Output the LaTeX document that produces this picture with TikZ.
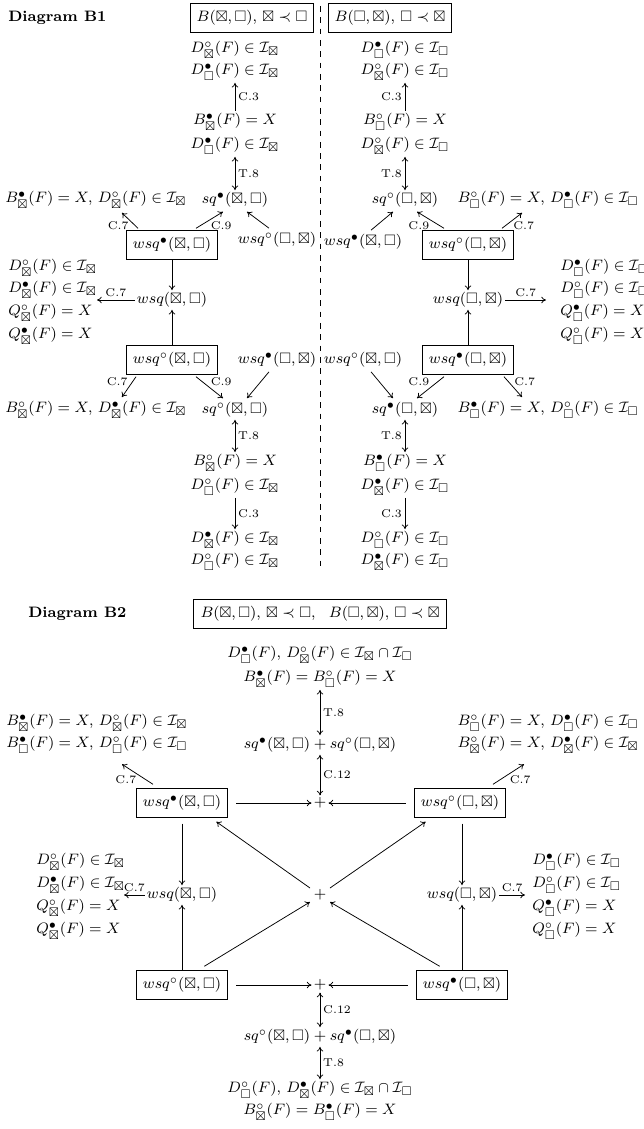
\documentclass[tikz,border=0pt]{standalone}
\usepackage{amsmath,amssymb}
\usetikzlibrary{calc,arrows.meta}
\newcommand{\BX}{\boxtimes}
\newcommand{\SQ}{\square}
\newcommand{\Ic}{\mathcal{I}}
\begin{document}
\begin{tikzpicture}[x=0.53pt,y=-0.53pt,
  every node/.style={inner sep=1pt,font=\footnotesize},
  box/.style={draw,line width=0.6pt,inner sep=3.5pt,minimum height=15pt},
  arr/.style={-{To[length=2.5pt,width=3.5pt]},line width=0.4pt},
  dar/.style={{To[length=2.5pt,width=3.5pt]}-{To[length=2.5pt,width=3.5pt]},line width=0.4pt},
  lab/.style={font=\fontsize{6}{7}\selectfont,inner sep=1.5pt},
  ttl/.style={font=\footnotesize\bfseries,anchor=west}]
\useasboundingbox (0,0) rectangle (643,1129);
% ================= B1 =================
\node[ttl] (t1) at (6,18) {Diagram B1};
\draw[dashed,line width=0.4pt] (320,6) -- (320,566);
% ---- left column
\node[box] (L0) at (252,18) {$B(\BX,\SQ),\,\BX\prec\SQ$};
\node (L1) at (235,50) {$D^\circ_{\BX}(F)\in\Ic_{\BX}$};
\node (L2) at (235,72) {$D^\bullet_{\SQ}(F)\in\Ic_{\BX}$};
\node (L3) at (235,122) {$B^\bullet_{\BX}(F)=X$};
\node (L4) at (235,146) {$D^\bullet_{\SQ}(F)\in\Ic_{\BX}$};
\node (L5) at (235,200) {$sq^\bullet(\BX,\SQ)$};
\draw[arr] (L3) -- node[lab,right]{C.3} (L2);
\draw[dar] (L4) -- node[lab,right]{T.8} (L5);
\node[anchor=west] (LT) at (3,200) {$B^\bullet_{\BX}(F)=X,\,D^\circ_{\BX}(F)\in\Ic_{\BX}$};
\node[box] (Lb1) at (172,245) {$wsq^\bullet(\BX,\SQ)$};
\node (Lw1) at (277,240) {$wsq^\circ(\SQ,\BX)$};
\draw[arr] ($(Lb1.north)+(-34,-2)$) -- node[lab,below left=-1pt]{C.7} ($(LT.south)+(26,2)$);
\draw[arr] ($(Lb1.north)+(24,-2)$) -- node[lab,below right=-1pt]{C.9} ($(L5.south)+(-12,2)$);
\draw[arr] ($(Lw1.north)+(-8,-2)$) -- ($(L5.south)+(12,2)$);
\node[anchor=west] (LS1) at (6,268) {$D^\circ_{\BX}(F)\in\Ic_{\BX}$};
\node[anchor=west] (LS2) at (6,290) {$D^\bullet_{\BX}(F)\in\Ic_{\BX}$};
\node[anchor=west] (LS3) at (6,313) {$Q^\circ_{\BX}(F)=X$};
\node[anchor=west] (LS4) at (6,336) {$Q^\bullet_{\BX}(F)=X$};
\node (Lw) at (172,300) {$wsq(\BX,\SQ)$};
\coordinate (LSx) at (97,300);
\draw[arr] (Lb1) -- (Lw);
\draw[arr] (Lw) -- node[lab,above]{C.7} (LSx);
\node[box] (Lb2) at (172,360) {$wsq^\circ(\BX,\SQ)$};
\node (Lw2) at (277,360) {$wsq^\bullet(\SQ,\BX)$};
\draw[arr] (Lb2) -- (Lw);
\node[anchor=west] (LB) at (3,410) {$B^\circ_{\BX}(F)=X,\,D^\bullet_{\BX}(F)\in\Ic_{\BX}$};
\node (L6) at (235,410) {$sq^\circ(\BX,\SQ)$};
\draw[arr] ($(Lb2.south)+(-36,2)$) -- node[lab,above left=-1pt]{C.7} ($(LB.north)+(26,-2)$);
\draw[arr] ($(Lb2.south)+(24,2)$) -- node[lab,above right=-1pt]{C.9} ($(L6.north)+(-12,-2)$);
\draw[arr] ($(Lw2.south)+(-8,2)$) -- ($(L6.north)+(12,-2)$);
\node (L7) at (235,463) {$B^\circ_{\BX}(F)=X$};
\node (L8) at (235,487) {$D^\circ_{\SQ}(F)\in\Ic_{\BX}$};
\node (L9) at (235,540) {$D^\bullet_{\BX}(F)\in\Ic_{\BX}$};
\node (L10) at (235,562) {$D^\circ_{\SQ}(F)\in\Ic_{\BX}$};
\draw[dar] (L6) -- node[lab,right]{T.8} (L7);
\draw[arr] (L8) -- node[lab,right]{C.3} (L9);
% ---- right column
\node[box] (R0) at (390,18) {$B(\SQ,\BX),\,\SQ\prec\BX$};
\node (R1) at (405,50) {$D^\bullet_{\SQ}(F)\in\Ic_{\SQ}$};
\node (R2) at (405,72) {$D^\circ_{\BX}(F)\in\Ic_{\SQ}$};
\node (R3) at (405,122) {$B^\circ_{\SQ}(F)=X$};
\node (R4) at (405,146) {$D^\circ_{\BX}(F)\in\Ic_{\SQ}$};
\node (R5) at (405,200) {$sq^\circ(\SQ,\BX)$};
\draw[arr] (R3) -- node[lab,left]{C.3} (R2);
\draw[dar] (R4) -- node[lab,left]{T.8} (R5);
\node[anchor=east] (RT) at (641,200) {$B^\circ_{\SQ}(F)=X,\,D^\bullet_{\SQ}(F)\in\Ic_{\SQ}$};
\node[box] (Rb1) at (468,245) {$wsq^\circ(\SQ,\BX)$};
\node (Rw1) at (363,242) {$wsq^\bullet(\BX,\SQ)$};
\draw[arr] ($(Rb1.north)+(34,-2)$) -- node[lab,below right=-1pt]{C.7} ($(RT.south)+(-26,2)$);
\draw[arr] ($(Rb1.north)+(-24,-2)$) -- node[lab,below left=-1pt]{C.9} ($(R5.south)+(12,2)$);
\draw[arr] ($(Rw1.north)+(8,-2)$) -- ($(R5.south)+(-12,2)$);
\node[anchor=west] (RS1) at (558,268) {$D^\bullet_{\SQ}(F)\in\Ic_{\SQ}$};
\node[anchor=west] (RS2) at (558,290) {$D^\circ_{\SQ}(F)\in\Ic_{\SQ}$};
\node[anchor=west] (RS3) at (558,313) {$Q^\bullet_{\SQ}(F)=X$};
\node[anchor=west] (RS4) at (558,336) {$Q^\circ_{\SQ}(F)=X$};
\node (Rw) at (468,300) {$wsq(\SQ,\BX)$};
\coordinate (RSx) at (546,300);
\draw[arr] (Rb1) -- (Rw);
\draw[arr] (Rw) -- node[lab,above]{C.7} (RSx);
\node[box] (Rb2) at (468,360) {$wsq^\bullet(\SQ,\BX)$};
\node (Rw2) at (363,360) {$wsq^\circ(\BX,\SQ)$};
\draw[arr] (Rb2) -- (Rw);
\node[anchor=east] (RB) at (641,410) {$B^\bullet_{\SQ}(F)=X,\,D^\circ_{\SQ}(F)\in\Ic_{\SQ}$};
\node (R6) at (405,410) {$sq^\bullet(\SQ,\BX)$};
\draw[arr] ($(Rb2.south)+(36,2)$) -- node[lab,above right=-1pt]{C.7} ($(RB.north)+(-26,-2)$);
\draw[arr] ($(Rb2.south)+(-24,2)$) -- node[lab,above left=-1pt]{C.9} ($(R6.north)+(12,-2)$);
\draw[arr] ($(Rw2.south)+(8,2)$) -- ($(R6.north)+(-12,-2)$);
\node (R7) at (405,463) {$B^\bullet_{\SQ}(F)=X$};
\node (R8) at (405,487) {$D^\bullet_{\BX}(F)\in\Ic_{\SQ}$};
\node (R9) at (405,540) {$D^\circ_{\SQ}(F)\in\Ic_{\SQ}$};
\node (R10) at (405,562) {$D^\bullet_{\BX}(F)\in\Ic_{\SQ}$};
\draw[dar] (R6) -- node[lab,left]{T.8} (R7);
\draw[arr] (R8) -- node[lab,left]{C.3} (R9);
% ================= B2 =================
\node[ttl] (t2) at (26,614) {Diagram B2};
\node[box] (T0) at (320,614) {$B(\BX,\SQ),\,\BX\prec\SQ,\ \ B(\SQ,\BX),\,\SQ\prec\BX$};
\node (T1) at (320,655) {$D^\bullet_{\SQ}(F),\,D^\circ_{\BX}(F)\in\Ic_{\BX}\cap\Ic_{\SQ}$};
\node (T2) at (320,679) {$B^\bullet_{\BX}(F)=B^\circ_{\SQ}(F)=X$};
\node (T3) at (320,745) {$sq^\bullet(\BX,\SQ)+sq^\circ(\SQ,\BX)$};
\node (P1) at (320,803) {$+$};
\draw[dar] (T2) -- node[lab,right]{T.8} (T3);
\draw[dar] (T3) -- node[lab,right]{C.12} (P1);
\node[box] (A) at (182,803) {$wsq^\bullet(\BX,\SQ)$};
\node[box] (B) at (460,803) {$wsq^\circ(\SQ,\BX)$};
\draw[arr] ($(A.east)+(8,0)$) -- (P1);
\draw[arr] ($(B.west)+(-8,0)$) -- (P1);
\node[anchor=west] (AT1) at (4,723) {$B^\bullet_{\BX}(F)=X,\,D^\circ_{\BX}(F)\in\Ic_{\BX}$};
\node[anchor=west] (AT2) at (4,745) {$B^\bullet_{\SQ}(F)=X,\,D^\circ_{\SQ}(F)\in\Ic_{\SQ}$};
\draw[arr] ($(A.north)+(-29,-4)$) -- node[lab,below left=-1pt]{C.7} ($(A.north)+(-60,-24)$);
\node[anchor=east] (BT1) at (641,723) {$B^\circ_{\SQ}(F)=X,\,D^\bullet_{\SQ}(F)\in\Ic_{\SQ}$};
\node[anchor=east] (BT2) at (641,745) {$B^\circ_{\BX}(F)=X,\,D^\bullet_{\BX}(F)\in\Ic_{\BX}$};
\draw[arr] ($(B.north)+(33,-4)$) -- node[lab,below right=-1pt]{C.7} ($(B.north)+(64,-24)$);
\node (P2) at (320,895) {$+$};
\node (Aw) at (182,895) {$wsq(\BX,\SQ)$};
\node (Bw) at (462,895) {$wsq(\SQ,\BX)$};
\draw[arr] ($(A.south)+(0,6)$) -- (Aw);
\draw[arr] ($(B.south -| Bw)+(0,6)$) -- (Bw);
\node[anchor=west] (AS1) at (34,862) {$D^\circ_{\BX}(F)\in\Ic_{\BX}$};
\node[anchor=west] (AS2) at (34,885) {$D^\bullet_{\BX}(F)\in\Ic_{\BX}$};
\node[anchor=west] (AS3) at (34,908) {$Q^\circ_{\BX}(F)=X$};
\node[anchor=west] (AS4) at (34,931) {$Q^\bullet_{\BX}(F)=X$};
\coordinate (ASx) at (124,895);
\draw[arr] (Aw) -- node[lab,above]{C.7} (ASx);
\node[anchor=west] (BS1) at (530,862) {$D^\bullet_{\SQ}(F)\in\Ic_{\SQ}$};
\node[anchor=west] (BS2) at (530,885) {$D^\circ_{\SQ}(F)\in\Ic_{\SQ}$};
\node[anchor=west] (BS3) at (530,908) {$Q^\bullet_{\SQ}(F)=X$};
\node[anchor=west] (BS4) at (530,931) {$Q^\circ_{\SQ}(F)=X$};
\coordinate (BSx) at (525,895);
\draw[arr] (Bw) -- node[lab,above]{C.7} (BSx);
\node[box] (C) at (182,985) {$wsq^\circ(\BX,\SQ)$};
\node[box] (D) at (462,985) {$wsq^\bullet(\SQ,\BX)$};
\node (P3) at (320,985) {$+$};
\draw[arr] ($(C.east)+(8,0)$) -- (P3);
\draw[arr] ($(D.west)+(-8,0)$) -- (P3);
\draw[arr] (C) -- (Aw);
\draw[arr] (D) -- (Bw);
\draw[arr] ($(P2)+(-10,-7)$) -- ($(A.south east)+(-12,4)$);
\draw[arr] ($(P2)+(10,-7)$) -- ($(B.south west)+(12,4)$);
\draw[arr] ($(C.north east)+(-24,-4)$) -- ($(P2)+(-10,7)$);
\draw[arr] ($(D.north west)+(24,-4)$) -- ($(P2)+(10,7)$);
\node (U1) at (320,1037) {$sq^\circ(\BX,\SQ)+sq^\bullet(\SQ,\BX)$};
\node (U2) at (320,1090) {$D^\circ_{\SQ}(F),\,D^\bullet_{\BX}(F)\in\Ic_{\BX}\cap\Ic_{\SQ}$};
\node (U3) at (320,1112) {$B^\circ_{\BX}(F)=B^\bullet_{\SQ}(F)=X$};
\draw[dar] (P3) -- node[lab,right]{C.12} (U1);
\draw[dar] (U1) -- node[lab,right]{T.8} (U2);
\end{tikzpicture}
\end{document}
